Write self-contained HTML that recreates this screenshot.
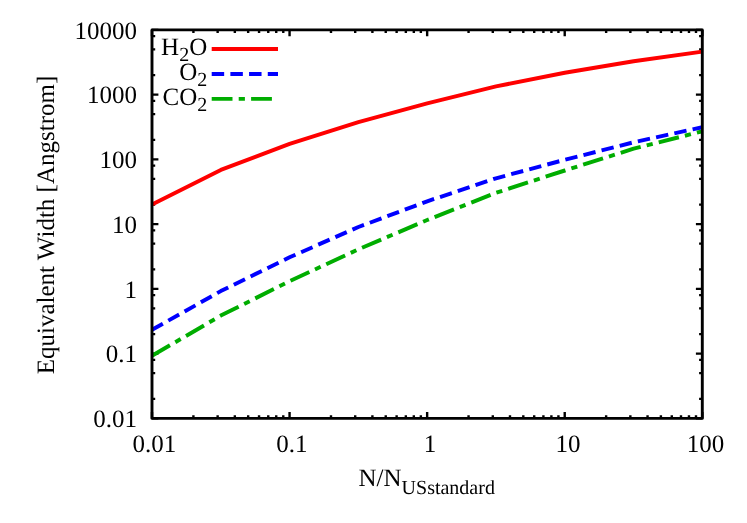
<!DOCTYPE html>
<html><head><meta charset="utf-8"><title>plot</title>
<style>
html,body{margin:0;padding:0;background:#fff;}
svg{display:block;}
text{text-rendering:geometricPrecision;font-family:"Liberation Serif",serif;font-size:25px;fill:#000;}
</style></head><body>
<svg width="747" height="523" viewBox="0 0 747 523">
<rect width="747" height="523" fill="#fff"/>
<!-- ticks -->
<path d="M152.00 418.4 v-6.4 M152.00 29.9 v6.4 M193.41 418.4 v-3.2 M193.41 29.9 v3.2 M217.64 418.4 v-3.2 M217.64 29.9 v3.2 M234.83 418.4 v-3.2 M234.83 29.9 v3.2 M248.16 418.4 v-3.2 M248.16 29.9 v3.2 M259.05 418.4 v-3.2 M259.05 29.9 v3.2 M268.26 418.4 v-3.2 M268.26 29.9 v3.2 M276.24 418.4 v-3.2 M276.24 29.9 v3.2 M283.28 418.4 v-3.2 M283.28 29.9 v3.2 M289.57 418.4 v-6.4 M289.57 29.9 v6.4 M330.99 418.4 v-3.2 M330.99 29.9 v3.2 M355.21 418.4 v-3.2 M355.21 29.9 v3.2 M372.40 418.4 v-3.2 M372.40 29.9 v3.2 M385.74 418.4 v-3.2 M385.74 29.9 v3.2 M396.63 418.4 v-3.2 M396.63 29.9 v3.2 M405.84 418.4 v-3.2 M405.84 29.9 v3.2 M413.82 418.4 v-3.2 M413.82 29.9 v3.2 M420.85 418.4 v-3.2 M420.85 29.9 v3.2 M427.15 418.4 v-6.4 M427.15 29.9 v6.4 M468.56 418.4 v-3.2 M468.56 29.9 v3.2 M492.79 418.4 v-3.2 M492.79 29.9 v3.2 M509.98 418.4 v-3.2 M509.98 29.9 v3.2 M523.31 418.4 v-3.2 M523.31 29.9 v3.2 M534.20 418.4 v-3.2 M534.20 29.9 v3.2 M543.41 418.4 v-3.2 M543.41 29.9 v3.2 M551.39 418.4 v-3.2 M551.39 29.9 v3.2 M558.43 418.4 v-3.2 M558.43 29.9 v3.2 M564.72 418.4 v-6.4 M564.72 29.9 v6.4 M606.14 418.4 v-3.2 M606.14 29.9 v3.2 M630.36 418.4 v-3.2 M630.36 29.9 v3.2 M647.55 418.4 v-3.2 M647.55 29.9 v3.2 M660.89 418.4 v-3.2 M660.89 29.9 v3.2 M671.78 418.4 v-3.2 M671.78 29.9 v3.2 M680.99 418.4 v-3.2 M680.99 29.9 v3.2 M688.97 418.4 v-3.2 M688.97 29.9 v3.2 M696.00 418.4 v-3.2 M696.00 29.9 v3.2 M702.30 418.4 v-6.4 M702.30 29.9 v6.4 M152.0 418.40 h6.4 M702.3 418.40 h-6.4 M152.0 398.91 h3.2 M702.3 398.91 h-3.2 M152.0 373.14 h3.2 M702.3 373.14 h-3.2 M152.0 359.92 h3.2 M702.3 359.92 h-3.2 M152.0 353.65 h6.4 M702.3 353.65 h-6.4 M152.0 334.16 h3.2 M702.3 334.16 h-3.2 M152.0 308.39 h3.2 M702.3 308.39 h-3.2 M152.0 295.17 h3.2 M702.3 295.17 h-3.2 M152.0 288.90 h6.4 M702.3 288.90 h-6.4 M152.0 269.41 h3.2 M702.3 269.41 h-3.2 M152.0 243.64 h3.2 M702.3 243.64 h-3.2 M152.0 230.42 h3.2 M702.3 230.42 h-3.2 M152.0 224.15 h6.4 M702.3 224.15 h-6.4 M152.0 204.66 h3.2 M702.3 204.66 h-3.2 M152.0 178.89 h3.2 M702.3 178.89 h-3.2 M152.0 165.67 h3.2 M702.3 165.67 h-3.2 M152.0 159.40 h6.4 M702.3 159.40 h-6.4 M152.0 139.91 h3.2 M702.3 139.91 h-3.2 M152.0 114.14 h3.2 M702.3 114.14 h-3.2 M152.0 100.92 h3.2 M702.3 100.92 h-3.2 M152.0 94.65 h6.4 M702.3 94.65 h-6.4 M152.0 75.16 h3.2 M702.3 75.16 h-3.2 M152.0 49.39 h3.2 M702.3 49.39 h-3.2 M152.0 36.17 h3.2 M702.3 36.17 h-3.2 M152.0 29.90 h6.4 M702.3 29.90 h-6.4" stroke="#000" stroke-width="2.4" fill="none"/>
<!-- curves -->
<polyline points="152.00,204.40 220.80,169.90 289.60,143.90 358.40,122.10 427.20,103.40 496.00,86.40 564.80,72.80 633.60,61.20 702.30,51.60" fill="none" stroke="#ff0000" stroke-width="3.95" stroke-linejoin="round"/>
<polyline points="152.00,329.80 220.80,291.10 289.60,257.30 358.40,227.00 427.20,201.30 496.00,178.30 564.80,159.80 633.60,142.30 702.30,127.20" fill="none" stroke="#0000ff" stroke-width="3.95" stroke-linejoin="round" stroke-dasharray="12.46 6.23"/>
<polyline points="152.00,355.80 220.80,315.60 289.60,281.20 358.40,249.30 427.20,220.00 496.00,192.80 564.80,170.50 633.60,148.70 702.30,131.30" fill="none" stroke="#00ad00" stroke-width="3.95" stroke-linejoin="round" stroke-dasharray="20.8 6.2 6.2 6.2"/>
<!-- legend -->
<line x1="211.7" y1="48.95" x2="278" y2="48.95" stroke="#ff0000" stroke-width="3.95"/>
<line x1="211.7" y1="73.9" x2="278" y2="73.9" stroke="#0000ff" stroke-width="3.95" stroke-dasharray="12.46 6.23"/>
<line x1="211.7" y1="98.85" x2="278" y2="98.85" stroke="#00ad00" stroke-width="3.95" stroke-dasharray="20.8 6.2 6.2 6.2"/>
<!-- frame -->
<rect x="152.0" y="29.9" width="550.3" height="388.5" fill="none" stroke="#000" stroke-width="2.9" stroke-linejoin="round"/>
<!-- labels -->
<g opacity="0.999">
<text x="207.2" y="54.9" text-anchor="end">H<tspan font-size="20" dy="6.4">2</tspan><tspan dy="-6.4">O</tspan></text>
<text x="207.2" y="79.9" text-anchor="end">O<tspan font-size="20" dy="6.4">2</tspan></text>
<text x="207.2" y="104.9" text-anchor="end">CO<tspan font-size="20" dy="6.4">2</tspan></text>
<text x="137" y="427.20" text-anchor="end">0.01</text>
<text x="137" y="362.45" text-anchor="end">0.1</text>
<text x="137" y="297.70" text-anchor="end">1</text>
<text x="137" y="232.95" text-anchor="end">10</text>
<text x="137" y="168.20" text-anchor="end">100</text>
<text x="137" y="103.45" text-anchor="end">1000</text>
<text x="137" y="38.70" text-anchor="end">10000</text>
<text x="154.40" y="452" text-anchor="middle">0.01</text>
<text x="291.97" y="452" text-anchor="middle">0.1</text>
<text x="429.95" y="452" text-anchor="middle">1</text>
<text x="567.92" y="452" text-anchor="middle">10</text>
<text x="705.50" y="452" text-anchor="middle">100</text>

<text transform="translate(54,225) rotate(-90)" text-anchor="middle">Equivalent Width [Angstrom]</text>
<text x="358.5" y="486">N/N<tspan font-size="20" dy="8">USstandard</tspan></text>
</g>
</svg>
</body></html>
